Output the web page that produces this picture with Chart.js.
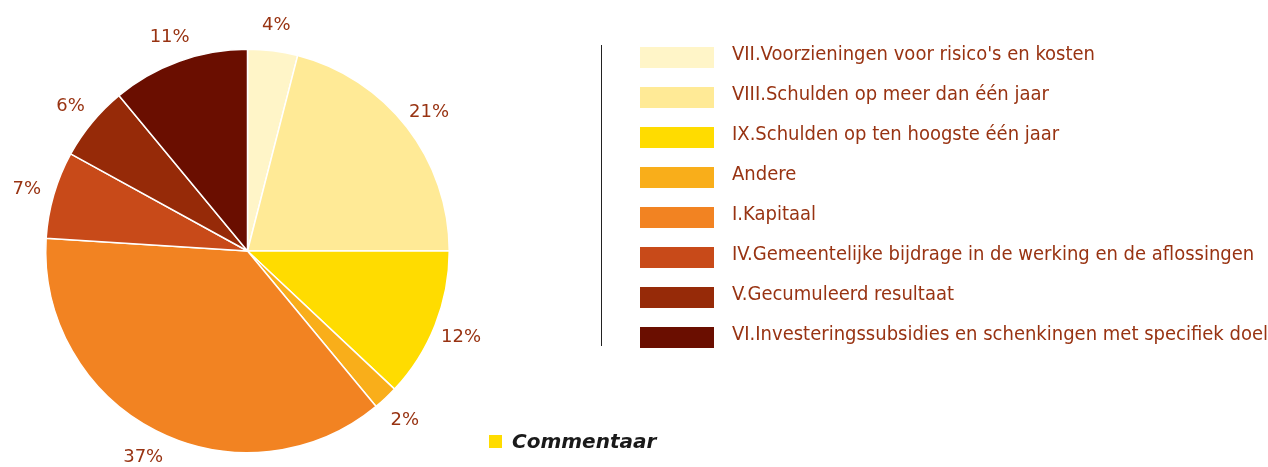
<!DOCTYPE html>
<html>
<head>
<meta charset="utf-8">
<script src="https://cdn.jsdelivr.net/npm/chart.js@4"></script>
<style>
  body { margin:0; background:#fff; }
  #wrap { position:relative; width:1268px; height:467px; overflow:hidden; }
  #taart { position:absolute; left:0; top:0; }
  #legende { position:absolute; left:601px; top:45px; height:301px; border-left:1px solid #222; }
  .rij { position:absolute; left:38px; height:21px; white-space:nowrap; }
  .blok { position:absolute; left:0; top:0; width:74px; height:21px; }
  .tekst { position:absolute; left:92px; top:-7px; font-family:"DejaVu Sans Condensed",sans-serif;
           font-size:20px; color:#983312; line-height:26px; }
  #commentaar { position:absolute; left:489px; top:429px; font-family:"DejaVu Sans",sans-serif;
                font-weight:bold; font-style:italic; font-size:20px; color:#1a1a1a; }
  #commentaar span.sq { display:inline-block; width:13px; height:13px; background:#ffdc00; margin-right:10px; }
</style>
</head>
<body>
<div id="wrap">
  <canvas id="taart" width="1268" height="467"></canvas>
  <div id="legende"></div>
  <div id="commentaar"><span class="sq"></span>Commentaar</div>
</div>
<script>
// Samenstelling passiva (in %)
var labels = [
  "VII.Voorzieningen voor risico's en kosten",
  "VIII.Schulden op meer dan één jaar",
  "IX.Schulden op ten hoogste één jaar",
  "Andere",
  "I.Kapitaal",
  "IV.Gemeentelijke bijdrage in de werking en de aflossingen",
  "V.Gecumuleerd resultaat",
  "VI.Investeringssubsidies en schenkingen met specifiek doel"
];
var percentages = [4, 21, 12, 2, 37, 7, 6, 11];
var kleuren = ["#fff5c8", "#ffea96", "#ffdc00", "#f9ae1a", "#f28322", "#c84a19", "#962a08", "#6a0e00"];

// legende
var legende = document.getElementById("legende");
labels.forEach(function(l, i){
  var rij = document.createElement("div");
  rij.className = "rij";
  rij.style.top = (2 + i * 40) + "px";
  rij.innerHTML = '<div class="blok" style="background:' + kleuren[i] + '"></div><div class="tekst"></div>';
  rij.querySelector(".tekst").textContent = l;
  legende.appendChild(rij);
});

// percentages buiten de taart
var procentLabels = {
  id: "procentLabels",
  afterDatasetsDraw: function(chart){
    var ctx = chart.ctx;
    var meta = chart.getDatasetMeta(0);
    ctx.save();
    ctx.font = "18px 'DejaVu Sans', sans-serif";
    ctx.fillStyle = "#983312";
    ctx.textAlign = "center";
    ctx.textBaseline = "middle";
    meta.data.forEach(function(arc, i){
      var p = arc.getProps(["x", "y", "startAngle", "endAngle", "outerRadius"], true);
      var mid = (p.startAngle + p.endAngle) / 2;
      var r = p.outerRadius + 28;
      ctx.fillText(percentages[i] + "%", p.x + Math.cos(mid) * r, p.y + Math.sin(mid) * r + 2);
    });
    ctx.restore();
  }
};

var taart = document.getElementById("taart").getContext("2d");
new Chart(taart, {
  type: "pie",
  data: {
    labels: labels,
    datasets: [{
      data: percentages,
      backgroundColor: kleuren,
      borderColor: "#ffffff",
      borderWidth: 1.5
    }]
  },
  options: {
    responsive: false,
    animation: false,
    layout: { padding: { left: 45, top: 48, right: 818, bottom: 13 } },
    plugins: {
      legend: { display: false },
      tooltip: { enabled: false }
    }
  },
  plugins: [procentLabels]
});
</script>
</body>
</html>
